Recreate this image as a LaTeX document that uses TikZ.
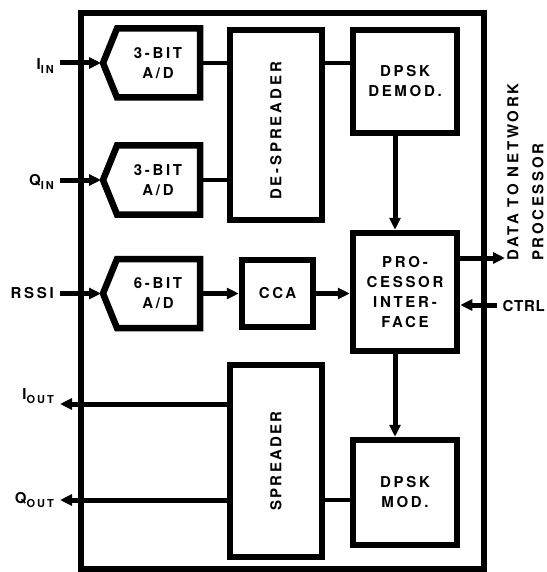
\documentclass[tikz,border=0pt]{standalone}
\usepackage{fontspec}
\setmainfont{TeX Gyre Heros}
\newfontfamily\chipfont[LetterSpace=18]{TeX Gyre Heros}
\usetikzlibrary{arrows.meta, positioning, calc}

\newcommand\subtxt[1]{\raisebox{-4pt}{\fontsize{11}{11}\selectfont #1}}

% A/D converter with notched input side: name, y, text
\newcommand\adconv[3]{%
  \draw[line width=6.5pt, line join=miter] (117,{#2-34.5}) -- (200,{#2-34.5})
    -- (200,{#2+34.5}) -- (117,{#2+34.5}) -- (103,#2) -- cycle;
  \node[lbl] (#1) at (158,#2) {#3};
  \coordinate (#1-in) at (101,#2);
  \coordinate (#1-out) at (200,#2);
}

\tikzset{
  blockbox/.style={draw, line width=6.5pt, inner sep=0pt, align=center,
    font=\chipfont\bfseries\fontsize{15}{20}\selectfont},
  lbl/.style={font=\chipfont\bfseries\fontsize{15}{20}\selectfont, align=center, inner sep=0pt},
  wire/.style={line width=4pt},
  sig/.style={line width=5pt, -{Triangle[length=12pt,width=11pt]}},
}

\begin{document}
\begin{tikzpicture}[x=1pt, y=-1pt]
  \useasboundingbox (0,0) rectangle (546,572);

  % Chip outline
  \node[draw, line width=6pt, minimum width=403pt, minimum height=556pt] (chip) at (282.5,291) {};

  % Converters
  \adconv{adi}{63}{3-BIT\\A/D}
  \adconv{adq}{180}{3-BIT\\A/D}
  \adconv{adr}{293.5}{6-BIT\\A/D}

  % Blocks
  \node[blockbox, minimum width=92pt, minimum height=190pt] (desp) at (276,125)
    {\rotatebox{90}{\addfontfeature{LetterSpace=19}DE-SPREADER\hspace{12pt}}};
  \node[blockbox, minimum width=104pt, minimum height=103pt] (demod) at (405,81.5) {DPSK\\DEMOD.};
  \node[blockbox, minimum width=104pt, minimum height=118pt] (proc) at (405,292) {PRO-\\CESSOR\\INTER-\\FACE};
  \node[blockbox, minimum width=71pt, minimum height=67pt] (cca) at (277.5,293.5) {CCA};
  \node[blockbox, minimum width=92pt, minimum height=192pt] (spr) at (276,461)
    {\rotatebox{90}{\addfontfeature{LetterSpace=15}SPREADER}};
  \node[blockbox, minimum width=104pt, minimum height=105pt] (mod) at (405,492.5) {DPSK\\MOD.};

  % Pins
  \coordinate (iin) at (60,63);
  \coordinate (qin) at (60,180);
  \coordinate (rssi) at (60,293.5);
  \coordinate (iout) at (60,404);
  \coordinate (qout) at (60,500);
  \coordinate (dataout) at (505,258);
  \coordinate (ctrl) at (497,305);
  \coordinate (vbus) at (395,0);

  \node[lbl, anchor=east] (iinlbl) at (54,66) {I\subtxt{IN}};
  \node[lbl, anchor=east] (qinlbl) at (54,182) {Q\subtxt{IN}};
  \node[lbl, anchor=east] (rssilbl) at (54,293.5) {RSSI};
  \node[lbl, anchor=east] (ioutlbl) at (54,396) {I\subtxt{OUT}};
  \node[lbl, anchor=east] (qoutlbl) at (54,500) {Q\subtxt{OUT}};
  \node[lbl, anchor=east, font=\chipfont\bfseries\fontsize{15}{20}\selectfont\addfontfeature{LetterSpace=5}]
    (ctrllbl) at (545,306) {CTRL};
  \node[lbl, rotate=90, anchor=north west, align=left,
        font=\chipfont\bfseries\fontsize{15}{25}\selectfont] (datalbl) at (507,261)
    {DATA TO NETWORK\\PROCESSOR};

  % Inputs
  \draw[sig] (iin) -- (adi-in);
  \draw[sig] (qin) -- (adq-in);
  \draw[sig] (rssi) -- (adr-in);

  % Receive path
  \draw[wire] (adi-out) -- (adi-out -| desp.west);
  \draw[wire] (adq-out) -- (adq-out -| desp.west);
  \draw[wire] (desp.east |- adi-out) -- (demod.west |- adi-out);
  \draw[sig] (adr-out) -- (adr-out -| cca.west);
  \draw[sig] (cca.east) -- (cca.east -| proc.west);
  \draw[sig] (demod.south -| vbus) -- (proc.north -| vbus);

  % Host side
  \draw[sig] (proc.east |- dataout) -- (dataout);
  \draw[sig] (ctrl) -- (ctrl -| proc.east);

  % Transmit path
  \draw[sig] (proc.south -| vbus) -- (mod.north -| vbus);
  \draw[wire] (mod.west |- qout) -- (spr.east |- qout);
  \draw[sig] (spr.west |- iout) -- (iout);
  \draw[sig] (spr.west |- qout) -- (qout);
\end{tikzpicture}
\end{document}
